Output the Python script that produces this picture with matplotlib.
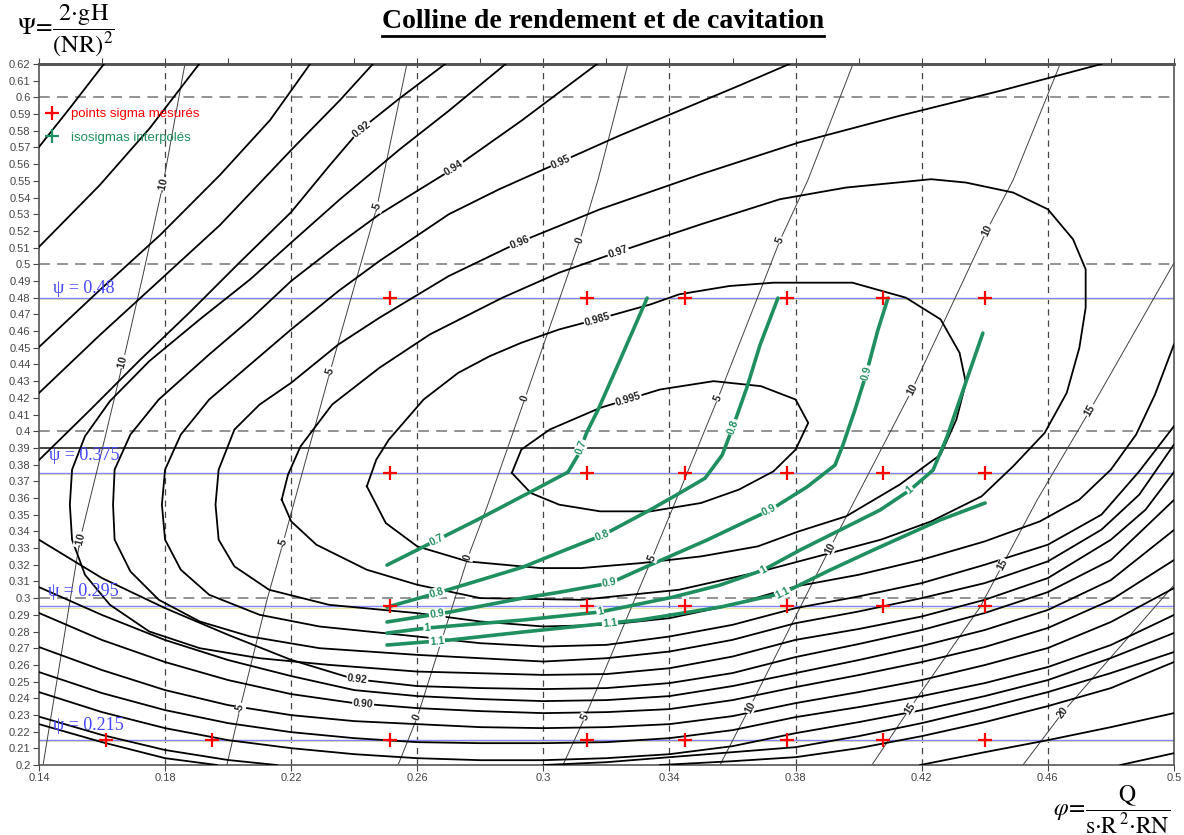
import matplotlib
matplotlib.use("Agg")
import matplotlib.pyplot as plt
import numpy as np
from matplotlib.lines import Line2D

plt.rcParams['font.family'] = ['Liberation Sans', 'DejaVu Sans']
plt.rcParams['mathtext.fontset'] = 'stix'

# --- efficiency contours (phi, psi) ---
c995_phi = [0.290, 0.293, 0.302, 0.318, 0.337, 0.354, 0.369, 0.380, 0.384, 0.380, 0.373, 0.362, 0.350, 0.334, 0.318, 0.305, 0.296, 0.290]
c995_psi = [0.375, 0.389, 0.401, 0.414, 0.425, 0.430, 0.427, 0.419, 0.405, 0.389, 0.376, 0.365, 0.357, 0.352, 0.352, 0.356, 0.363, 0.375]

c985_phi = [0.244, 0.247, 0.251, 0.262, 0.273, 0.283, 0.293, 0.305, 0.317, 0.334, 0.343, 0.359, 0.373, 0.398, 0.415, 0.426, 0.432, 0.434, 0.431, 0.426, 0.413, 0.396, 0.381, 0.368, 0.350, 0.331, 0.312, 0.299, 0.276, 0.260, 0.250, 0.244]
c985_psi = [0.367, 0.383, 0.395, 0.419, 0.435, 0.445, 0.453, 0.461, 0.467, 0.476, 0.482, 0.487, 0.489, 0.489, 0.480, 0.467, 0.447, 0.429, 0.407, 0.386, 0.368, 0.349, 0.340, 0.331, 0.325, 0.321, 0.318, 0.318, 0.322, 0.331, 0.345, 0.367]

c97_phi = [0.217, 0.219, 0.223, 0.233, 0.248, 0.264, 0.287, 0.305, 0.323, 0.350, 0.375, 0.396, 0.423, 0.434, 0.449, 0.460, 0.468, 0.472, 0.472, 0.470, 0.466, 0.459, 0.449, 0.439, 0.423, 0.407, 0.391, 0.369, 0.343, 0.312, 0.280, 0.260, 0.244, 0.228, 0.220, 0.217]
c97_psi = [0.359, 0.374, 0.391, 0.416, 0.438, 0.458, 0.480, 0.495, 0.507, 0.524, 0.539, 0.546, 0.551, 0.549, 0.543, 0.533, 0.515, 0.497, 0.474, 0.450, 0.423, 0.399, 0.379, 0.361, 0.346, 0.335, 0.327, 0.316, 0.305, 0.299, 0.300, 0.308, 0.317, 0.332, 0.346, 0.359]

c96_phi = [0.477, 0.445, 0.413, 0.381, 0.350, 0.318, 0.292, 0.270, 0.248, 0.235, 0.220, 0.210, 0.202, 0.197, 0.196, 0.197, 0.202, 0.213, 0.232, 0.260, 0.280, 0.300, 0.320, 0.340, 0.360, 0.380, 0.400, 0.420, 0.440, 0.4575, 0.470, 0.480, 0.488, 0.494, 0.500]
c96_psi = [0.620, 0.604, 0.589, 0.573, 0.554, 0.533, 0.513, 0.493, 0.468, 0.452, 0.429, 0.416, 0.401, 0.377, 0.356, 0.335, 0.319, 0.305, 0.296, 0.291, 0.286, 0.283, 0.284, 0.288, 0.296, 0.307, 0.314, 0.323, 0.334, 0.346, 0.359, 0.377, 0.398, 0.422, 0.452]

c95_phi = [0.378, 0.362, 0.343, 0.324, 0.305, 0.286, 0.270, 0.248, 0.235, 0.220, 0.207, 0.194, 0.185, 0.180, 0.179, 0.180, 0.185, 0.194, 0.210, 0.229, 0.260, 0.280, 0.300, 0.320, 0.340, 0.360, 0.380, 0.400, 0.420, 0.440, 0.460, 0.477, 0.489, 0.500]
c95_psi = [0.620, 0.607, 0.592, 0.577, 0.561, 0.545, 0.530, 0.502, 0.484, 0.461, 0.440, 0.419, 0.398, 0.377, 0.356, 0.335, 0.317, 0.302, 0.290, 0.283, 0.277, 0.273, 0.271, 0.272, 0.277, 0.284, 0.294, 0.301, 0.309, 0.320, 0.332, 0.350, 0.376, 0.403]

c94_phi = [0.317, 0.305, 0.293, 0.272, 0.248, 0.235, 0.220, 0.207, 0.194, 0.178, 0.169, 0.164, 0.1635, 0.164, 0.169, 0.178, 0.191, 0.207, 0.229, 0.260, 0.280, 0.300, 0.320, 0.340, 0.360, 0.380, 0.400, 0.420, 0.440, 0.460, 0.477, 0.489, 0.500]
c94_psi = [0.620, 0.603, 0.586, 0.558, 0.530, 0.512, 0.490, 0.467, 0.446, 0.419, 0.398, 0.377, 0.356, 0.335, 0.316, 0.299, 0.286, 0.277, 0.270, 0.266, 0.264, 0.262, 0.264, 0.268, 0.275, 0.285, 0.292, 0.300, 0.309, 0.322, 0.341, 0.362, 0.392]

c93_phi = [0.288, 0.270, 0.2545, 0.2355, 0.220, 0.207, 0.191, 0.175, 0.1625, 0.1546, 0.1505, 0.1498, 0.1505, 0.1546, 0.1625, 0.175, 0.191, 0.210, 0.232, 0.260, 0.280, 0.300, 0.320, 0.340, 0.360, 0.380, 0.400, 0.420, 0.440, 0.460, 0.480, 0.491, 0.500]
c93_psi = [0.620, 0.592, 0.569, 0.539, 0.513, 0.491, 0.467, 0.442, 0.418, 0.397, 0.377, 0.356, 0.335, 0.314, 0.296, 0.280, 0.270, 0.264, 0.260, 0.256, 0.255, 0.254, 0.2545, 0.258, 0.265, 0.275, 0.2815, 0.289, 0.299, 0.312, 0.335, 0.353, 0.3755]

# outer levels: upper-left branch and lower branch read on the phi grid
phi_grid = [0.14, 0.16, 0.18, 0.20, 0.22, 0.24, 0.26, 0.28, 0.30, 0.32, 0.34, 0.36, 0.38, 0.40, 0.42, 0.44, 0.46, 0.48, 0.50]

c92_up_phi = [0.2688, 0.2545, 0.2418, 0.2323, 0.220, 0.2038, 0.1879, 0.172, 0.1562, 0.140]
c92_up_psi = [0.620, 0.5996, 0.5805, 0.5595, 0.5313, 0.5014, 0.4714, 0.4426, 0.4127, 0.3827]
c92_low_psi = [0.335, 0.312, 0.294, 0.278, 0.263, 0.2515, 0.2473, 0.2461, 0.2455, 0.2461, 0.2491, 0.2551, 0.2647, 0.2725, 0.2809, 0.2911, 0.3036, 0.3228, 0.3588]

c91_up_phi = [0.2459, 0.2355, 0.220, 0.1974, 0.1784, 0.1593, 0.140]
c91_up_psi = [0.620, 0.5984, 0.5685, 0.5235, 0.4906, 0.4576, 0.4229]
c91_low_psi = [0.3066, 0.2899, 0.2749, 0.2629, 0.2533, 0.2449, 0.2413, 0.2395, 0.2383, 0.2389, 0.2413, 0.2473, 0.2551, 0.2629, 0.2713, 0.2809, 0.2929, 0.3108, 0.3408]

c90_up_phi = [0.226, 0.2133, 0.1974, 0.1784, 0.1593, 0.140]
c90_up_psi = [0.620, 0.5864, 0.5535, 0.5175, 0.4846, 0.4504]
c90_low_psi = [0.2911, 0.2749, 0.2617, 0.2509, 0.2425, 0.2371, 0.2341, 0.2323, 0.2311, 0.2317, 0.2335, 0.2389, 0.2467, 0.2539, 0.2617, 0.2707, 0.2821, 0.2988, 0.3228]

c89_up_phi = [0.1908, 0.1752, 0.1593, 0.140]
c89_up_psi = [0.620, 0.5817, 0.5475, 0.5104]
c89_low_psi = [0.2707, 0.2569, 0.2449, 0.2359, 0.2299, 0.2263, 0.2245, 0.2227, 0.2221, 0.2227, 0.2245, 0.2293, 0.2371, 0.2437, 0.2509, 0.2599, 0.2701, 0.2857, 0.3060]

c88_up_phi = [0.1606, 0.1498, 0.140]
c88_up_psi = [0.620, 0.5936, 0.5703]
c88_low_psi = [0.2557, 0.2431, 0.2329, 0.2251, 0.2197, 0.2161, 0.2137, 0.2131, 0.2131, 0.2137, 0.2161, 0.2209, 0.2287, 0.2347, 0.2413, 0.2491, 0.2587, 0.2719, 0.2899]

c87_low_psi = [0.2437, 0.2317, 0.2221, 0.2149, 0.2101, 0.2065, 0.2041, 0.2029, 0.2029, 0.2041, 0.2065, 0.2113, 0.2191, 0.2257, 0.2329, 0.2413, 0.2509, 0.2641, 0.2791]

c86_left_phi = [0.140, 0.160, 0.180, 0.200, 0.2155]
c86_left_psi = [0.229, 0.218, 0.209, 0.203, 0.200]
c86_right_phi = [0.300, 0.320, 0.340, 0.360, 0.380, 0.400, 0.420, 0.440, 0.460, 0.480, 0.500]
c86_right_psi = [0.200, 0.2017, 0.2047, 0.2077, 0.2107, 0.2173, 0.2251, 0.2341, 0.2437, 0.2551, 0.2677]

c85_left_phi = [0.140, 0.160, 0.180, 0.1965]
c85_left_psi = [0.2245, 0.2137, 0.2041, 0.200]
c85_right_phi = [0.337, 0.360, 0.380, 0.400, 0.420, 0.440, 0.460, 0.480, 0.500]
c85_right_psi = [0.200, 0.2023, 0.2047, 0.2101, 0.2173, 0.2257, 0.2353, 0.2461, 0.2617]

c84_phi = [0.4195, 0.440, 0.460, 0.480, 0.500]
c84_psi = [0.200, 0.2077, 0.2149, 0.2227, 0.2311]
c83_phi = [0.483, 0.500]
c83_psi = [0.200, 0.2071]

# --- guide vane opening lines ---
a_m10_phi = [0.1413, 0.1473, 0.153, 0.160, 0.1666, 0.173, 0.1793, 0.1863]
a_m10_psi = [0.200, 0.2689, 0.3348, 0.3887, 0.4409, 0.4936, 0.5475, 0.620]
a_m5_phi = [0.1996, 0.2038, 0.2123, 0.2174, 0.2323, 0.2472, 0.2567]
a_m5_psi = [0.200, 0.2341, 0.2988, 0.333, 0.4355, 0.5343, 0.620]
a_0_phi = [0.2539, 0.260, 0.2761, 0.2821, 0.2942, 0.3116, 0.3173, 0.3268]
a_0_psi = [0.200, 0.2287, 0.3246, 0.3546, 0.4199, 0.5146, 0.5505, 0.620]
a_5_phi = [0.3062, 0.3132, 0.3345, 0.3554, 0.3751, 0.3839, 0.3982]
a_5_psi = [0.200, 0.2287, 0.324, 0.4199, 0.5146, 0.5505, 0.620]
a_10_phi = [0.356, 0.3655, 0.3909, 0.4169, 0.4407, 0.449, 0.4639]
a_10_psi = [0.200, 0.2347, 0.330, 0.4247, 0.5205, 0.5505, 0.620]
a_15_phi = [0.4042, 0.4163, 0.4385, 0.4566, 0.4734, 0.500]
a_15_psi = [0.200, 0.2341, 0.2946, 0.3588, 0.4127, 0.5008]
a_20_phi = [0.4521, 0.4648, 0.500]
a_20_psi = [0.200, 0.2317, 0.3078]

# --- interpolated isosigma lines ---
s07_phi = [0.3329, 0.3243, 0.3173, 0.3138, 0.311, 0.3078, 0.2989, 0.2862, 0.2789, 0.2662, 0.2504]
s07_psi = [0.4798, 0.4426, 0.4127, 0.3995, 0.3857, 0.3755, 0.3666, 0.354, 0.3468, 0.3348, 0.3198]
s08_phi = [0.3744, 0.3687, 0.3646, 0.3601, 0.3567, 0.3513, 0.3433, 0.3338, 0.3189, 0.3053, 0.2935, 0.2799, 0.2662, 0.2504]
s08_psi = [0.4798, 0.4516, 0.4265, 0.4025, 0.3857, 0.3719, 0.3630, 0.3528, 0.3378, 0.3276, 0.3186, 0.3108, 0.3030, 0.2946]
s09_phi = [0.4093, 0.4061, 0.4023, 0.3988, 0.395, 0.3925, 0.3836, 0.3719, 0.3519, 0.3338, 0.3211, 0.3053, 0.2935, 0.2704, 0.2504]
s09_psi = [0.4798, 0.4606, 0.4337, 0.4127, 0.3917, 0.3797, 0.3666, 0.3528, 0.3348, 0.3198, 0.3090, 0.3036, 0.3000, 0.2917, 0.2857]
s10_phi = [0.4394, 0.4337, 0.428, 0.4236, 0.4163, 0.4068, 0.3941, 0.3814, 0.3697, 0.356, 0.3411, 0.318, 0.2935, 0.2631, 0.2504]
s10_psi = [0.4588, 0.4277, 0.3965, 0.3767, 0.3648, 0.3528, 0.3408, 0.3288, 0.3168, 0.3078, 0.3006, 0.2917, 0.2869, 0.2821, 0.2791]
s11_phi = [0.4401, 0.4258, 0.4046, 0.3909, 0.376, 0.356, 0.3306, 0.3211, 0.2935, 0.2704, 0.2504]
s11_psi = [0.357, 0.3468, 0.3288, 0.3168, 0.303, 0.2946, 0.2869, 0.2851, 0.2797, 0.2749, 0.2719]

# --- measured sigma points ---
psi_test = [0.48, 0.375, 0.295, 0.215]
phi_meas = [0.2513, 0.3138, 0.3449, 0.3772, 0.4077, 0.44]
phi_meas_low = [0.1612, 0.1948, 0.2513, 0.3138, 0.3449, 0.3772, 0.4077, 0.44]

GREEN = '#1f8f5f'

fig = plt.figure(figsize=(11.84, 8.35), dpi=100)
ax = fig.add_axes([0.0329, 0.0838, 0.9586, 0.8395])
ax.set_xlim(0.14, 0.5)
ax.set_ylim(0.2, 0.62)

# grid
for x in [0.18, 0.22, 0.26, 0.30, 0.34, 0.38, 0.42, 0.46]:
    ax.axvline(x, color='#444444', lw=0.9, ls=(0, (5, 4)), zorder=1)
for y in [0.3, 0.4, 0.5, 0.6]:
    ax.axhline(y, color='#8a8a8a', lw=1.3, ls=(0, (6, 4)), zorder=1)
ax.axhline(0.39, color='#333333', lw=1.3, zorder=1)

# test heads
for v in psi_test:
    ax.axhline(v - 0.0008, color='#e8e8a8', lw=0.8, zorder=1.5)
    ax.axhline(v, color='#8484ff', lw=1.0, zorder=1.6)

# efficiency hill
eff_lines = [
    (c995_phi, c995_psi), (c985_phi, c985_psi), (c97_phi, c97_psi),
    (c96_phi, c96_psi), (c95_phi, c95_psi), (c94_phi, c94_psi), (c93_phi, c93_psi),
    (c92_up_phi, c92_up_psi), (phi_grid, c92_low_psi),
    (c91_up_phi, c91_up_psi), (phi_grid, c91_low_psi),
    (c90_up_phi, c90_up_psi), (phi_grid, c90_low_psi),
    (c89_up_phi, c89_up_psi), (phi_grid, c89_low_psi),
    (c88_up_phi, c88_up_psi), (phi_grid, c88_low_psi),
    (phi_grid, c87_low_psi),
    (c86_left_phi, c86_left_psi), (c86_right_phi, c86_right_psi),
    (c85_left_phi, c85_left_psi), (c85_right_phi, c85_right_psi),
    (c84_phi, c84_psi), (c83_phi, c83_psi),
]
for xs, ys in eff_lines:
    ax.plot(xs, ys, color='black', lw=1.3, zorder=3)

vane_lines = [(a_m10_phi, a_m10_psi), (a_m5_phi, a_m5_psi), (a_0_phi, a_0_psi),
              (a_5_phi, a_5_psi), (a_10_phi, a_10_psi), (a_15_phi, a_15_psi),
              (a_20_phi, a_20_psi)]
for xs, ys in vane_lines:
    ax.plot(xs, ys, color='#404040', lw=0.7, zorder=2)

sigma_lines = [(s07_phi, s07_psi), (s08_phi, s08_psi), (s09_phi, s09_psi),
               (s10_phi, s10_psi), (s11_phi, s11_psi)]
for xs, ys in sigma_lines:
    ax.plot(xs, ys, color=GREEN, lw=2.6, solid_capstyle='round', zorder=4)

for v in psi_test:
    xs = phi_meas_low if v == 0.215 else phi_meas
    ax.plot(xs, [v] * len(xs), ls='none', marker='+', color='red', ms=10, mew=1.6, zorder=5)


def put_label(xs, ys, at, text, color='black', size=7, weight='normal'):
    pts = ax.transData.transform(np.column_stack([xs, ys]))
    p = ax.transData.transform(at)
    best = None
    for k in range(len(pts) - 1):
        a, b = pts[k], pts[k + 1]
        ab = b - a
        l2 = float(ab @ ab)
        if l2 == 0:
            continue
        t = np.clip(((p - a) @ ab) / l2, 0, 1)
        q = a + t * ab
        d = np.hypot(*(p - q))
        if best is None or d < best[0]:
            best = (d, q, ab)
    _, q, ab = best
    ang = np.degrees(np.arctan2(ab[1], ab[0]))
    if ang > 90:
        ang -= 180
    elif ang < -90:
        ang += 180
    x, y = ax.transData.inverted().transform(q)
    ax.text(x, y, text, rotation=ang, rotation_mode='anchor', ha='center', va='center',
            color=color, fontsize=size, fontweight=weight, zorder=6,
            bbox=dict(boxstyle='square,pad=0.08', fc='white', ec='none'))


# efficiency labels
for xs, ys, spot, txt in [
        (c995_phi, c995_psi, (0.3265, 0.4217), '0.995'),
        (c985_phi, c985_psi, (0.3173, 0.4655), '0.985'),
        (c97_phi, c97_psi, (0.3237, 0.5074), '0.97'),
        (c96_phi, c96_psi, (0.2919, 0.5158), '0.96'),
        (c95_phi, c95_psi, (0.3053, 0.5625), '0.95'),
        (c94_phi, c94_psi, (0.272, 0.5565), '0.94'),
        (c92_up_phi, c92_up_psi, (0.2418, 0.5822), '0.92'),
        (phi_grid, c92_low_psi, (0.2409, 0.2497), '0.92'),
        (phi_grid, c90_low_psi, (0.2428, 0.2359), '0.90')]:
    put_label(xs, ys, spot, txt, size=7.5, weight='bold', color='#222222')

# vane opening labels
vane_labels = [
    (a_m10_phi, a_m10_psi, '-10', [(0.153, 0.335), (0.1666, 0.4409), (0.1793, 0.5475)]),
    (a_m5_phi, a_m5_psi, '-5', [(0.2038, 0.2341), (0.2174, 0.333), (0.2323, 0.4355), (0.2472, 0.5343)]),
    (a_0_phi, a_0_psi, '0', [(0.260, 0.2287), (0.2761, 0.3246), (0.2942, 0.4199), (0.3116, 0.5146)]),
    (a_5_phi, a_5_psi, '5', [(0.3132, 0.2287), (0.3345, 0.324), (0.3554, 0.4199), (0.3751, 0.5146)]),
    (a_10_phi, a_10_psi, '10', [(0.3655, 0.2347), (0.3909, 0.330), (0.4169, 0.4247), (0.4407, 0.5205)]),
    (a_15_phi, a_15_psi, '15', [(0.4163, 0.2341), (0.4448, 0.3210), (0.4734, 0.4127)]),
    (a_20_phi, a_20_psi, '20', [(0.4648, 0.2317)]),
]
for xs, ys, txt, spots in vane_labels:
    for s in spots:
        put_label(xs, ys, s, txt, size=7.5, weight='bold', color='#222222')

# isosigma labels
sigma_labels = [
    (s07_phi, s07_psi, '0.7', [(0.3116, 0.3905), (0.2662, 0.3348)]),
    (s08_phi, s08_psi, '0.8', [(0.3601, 0.4025), (0.3189, 0.3366), (0.2662, 0.303)]),
    (s09_phi, s09_psi, '0.9', [(0.402, 0.435), (0.3719, 0.3516), (0.3211, 0.3078), (0.2662, 0.2911)]),
    (s10_phi, s10_psi, '1', [(0.4163, 0.3648), (0.3697, 0.3168), (0.318, 0.2917), (0.2631, 0.2821)]),
    (s11_phi, s11_psi, '1.1', [(0.376, 0.303), (0.3211, 0.2851), (0.2662, 0.2749)]),
]
for xs, ys, txt, spots in sigma_labels:
    for s in spots:
        put_label(xs, ys, s, txt, color=GREEN, size=7.5, weight='bold')

# test head captions
serif = ['Liberation Serif', 'DejaVu Serif']
for v, x0, dy in [(0.48, 0.1444, 0.0030), (0.375, 0.1431, 0.0075),
                  (0.295, 0.1428, 0.0060), (0.215, 0.1444, 0.0060)]:
    ax.text(x0, v + dy, f'ψ = {v:g}', color='#4646ff', fontsize=13, family=serif,
            va='baseline', ha='left', zorder=7)

# legend
handles = [Line2D([], [], marker='+', ls='none', color='red', ms=10, mew=1.6),
           Line2D([], [], marker='+', ls='none', color=GREEN, ms=10, mew=1.6)]
leg = ax.legend(handles, ['points sigma mesurés', 'isosigmas interpolés'],
                loc='upper left', bbox_to_anchor=(0.0069, 0.937), frameon=False,
                fontsize=9.5, handlelength=0.8, handletextpad=1.0, labelspacing=0.85,
                borderpad=0, borderaxespad=0)
for t, c in zip(leg.get_texts(), ['red', GREEN]):
    t.set_color(c)

# axes and ticks
yt = np.round(np.arange(0.20, 0.6201, 0.01), 2)
ax.set_yticks(yt)
ax.set_yticklabels([f'{v:g}' for v in yt])
xt = np.round(np.arange(0.14, 0.5001, 0.04), 2)
ax.set_xticks(xt)
ax.set_xticklabels([f'{v:g}' for v in xt])
ax.tick_params(axis='both', direction='out', length=4, width=0.8, labelsize=8,
               colors='#444444', pad=2)
top = ax.secondary_xaxis('top')
top.set_xticks(np.round(np.arange(0.14, 0.5001, 0.02), 2))
top.set_xticklabels([])
top.tick_params(direction='out', length=4, width=0.8, colors='#444444')
top.spines['top'].set_linewidth(1.8)
top.spines['top'].set_color('#333333')
for s in ax.spines.values():
    s.set_color('#555555')
    s.set_linewidth(1.2)
ax.spines['top'].set_linewidth(1.8)

# titles
title = fig.text(0.509, 0.9745, 'Colline de rendement et de cavitation', ha='center', va='center',
                 fontsize=20, fontweight='bold', family=serif)
fig.text(0.014, 0.9635, r'$\Psi\!=\!\dfrac{2{\cdot}\mathrm{gH}}{(\mathrm{NR})^{2}}$',
         fontsize=17.5, ha='left', va='center')
fig.text(0.988, 0.030, r'$\varphi\!=\!\dfrac{\mathrm{Q}}{\mathrm{s{\cdot}R}^{\,2}{\cdot}\mathrm{RN}}$',
         fontsize=17, ha='right', va='center')

fig.canvas.draw()
bb = title.get_window_extent(fig.canvas.get_renderer()).transformed(fig.transFigure.inverted())
fig.add_artist(Line2D([bb.x0, bb.x1], [bb.y0 - 0.003, bb.y0 - 0.003], color='black', lw=2.0,
                      transform=fig.transFigure))

fig.savefig('out.png', dpi=100)
